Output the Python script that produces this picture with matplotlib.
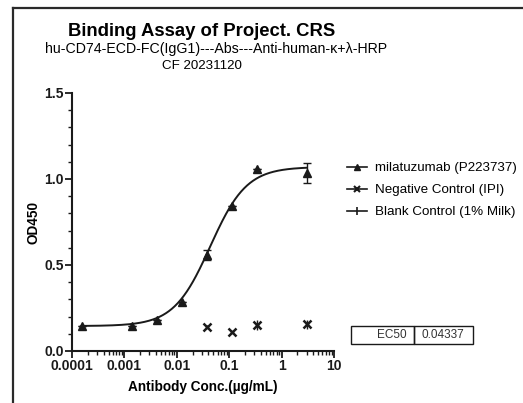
import numpy as np
import matplotlib
matplotlib.use("Agg")
import matplotlib.pyplot as plt
from matplotlib.lines import Line2D
from matplotlib.patches import Rectangle
from matplotlib.ticker import FixedLocator, LogLocator, NullFormatter, FixedFormatter

plt.rcParams['font.family'] = ['Liberation Sans', 'DejaVu Sans']

# Data
conc_mab = [0.000152, 0.00137, 0.00412, 0.0123, 0.037, 0.111, 0.333, 3.0]
od_mab = [0.147, 0.148, 0.178, 0.285, 0.56, 0.845, 1.056, 1.035]
err_mab = [0.0, 0.0, 0.0, 0.0, 0.03, 0.0, 0.0, 0.06]

conc_neg = [0.037, 0.111, 0.333, 3.0]
od_neg = [0.141, 0.112, 0.151, 0.155]
err_neg = [0.008, 0.005, 0.03, 0.025]

# 4PL fit parameters
fit_bottom = 0.145
fit_top = 1.07
fit_ec50 = 0.04337
fit_hill = 1.25

xticks = [0.0001, 0.001, 0.01, 0.1, 1, 10]
xticklabels = ["0.0001", "0.001", "0.01", "0.1", "1", "10"]
yticks = [0.0, 0.5, 1.0, 1.5]
yticklabels = ["0.0", "0.5", "1.0", "1.5"]

legend_labels = ["milatuzumab (P223737)", "Negative Control (IPI)", "Blank Control (1% Milk)"]

fig = plt.figure(figsize=(5.23, 4.03), dpi=100)
ax = fig.add_axes([72/523, 1-351/403, (334-72)/523, (351-93)/403])

xs = np.logspace(np.log10(conc_mab[0]), np.log10(conc_mab[-1]), 300)
ys = fit_bottom + (fit_top - fit_bottom) / (1 + (fit_ec50 / xs) ** fit_hill)
ax.plot(xs, ys, color='#1a1a1a', lw=1.4, zorder=2)

ax.errorbar(conc_mab, od_mab, yerr=err_mab, fmt='^', color='#1a1a1a', ms=5.5,
            capsize=3, elinewidth=1.0, capthick=1.0, zorder=3)
ax.errorbar(conc_neg, od_neg, yerr=err_neg, fmt='x', color='#1a1a1a', ms=5.5, mew=1.8,
            capsize=0, elinewidth=1.0, zorder=3)

ax.set_xscale('log')
ax.set_xlim(1e-4, 10)
ax.set_ylim(0, 1.5)
for s in ['top', 'right']:
    ax.spines[s].set_visible(False)
for s in ['left', 'bottom']:
    ax.spines[s].set_linewidth(1.5)
    ax.spines[s].set_color('#1a1a1a')

ax.xaxis.set_major_locator(FixedLocator(xticks))
ax.xaxis.set_major_formatter(FixedFormatter(xticklabels))
ax.xaxis.set_minor_locator(LogLocator(base=10, subs=np.arange(2, 10), numticks=20))
ax.xaxis.set_minor_formatter(NullFormatter())
ax.yaxis.set_major_locator(FixedLocator(yticks))
ax.yaxis.set_major_formatter(FixedFormatter(yticklabels))
ax.yaxis.set_minor_locator(FixedLocator(np.arange(0.1, 1.5, 0.1)))
ax.tick_params(which='major', direction='out', length=5, width=1.3, labelsize=10, pad=1, colors='#1a1a1a')
ax.tick_params(which='minor', direction='out', length=3, width=1.0, colors='#1a1a1a')
for lab in ax.get_xticklabels() + ax.get_yticklabels():
    lab.set_fontweight('bold')

ax.set_xlabel("Antibody Conc.(µg/mL)", fontsize=9.8, fontweight='bold', labelpad=5)
ax.set_ylabel("OD450", fontsize=9.8, fontweight='bold', labelpad=3)

# Titles
fig.text(202/523, 1-32/403, "Binding Assay of Project. CRS", ha='center', va='center',
         fontsize=13.3, fontweight='bold')
fig.text(216/523, 1-49/403, "hu-CD74-ECD-FC(IgG1)---Abs---Anti-human-κ+λ-HRP", ha='center',
         va='center', fontsize=10.2)
fig.text(202/523, 1-66/403, "CF 20231120", ha='center', va='center', fontsize=9.6)

# Legend
handles = [
    Line2D([0], [0], color='#1a1a1a', marker='^', ms=5, lw=1.2),
    Line2D([0], [0], color='#1a1a1a', marker='x', ms=5, mew=1.5, lw=1.2),
    Line2D([0], [0], color='#1a1a1a', marker='|', ms=6, mew=1.2, lw=1.2),
]
fig.legend(handles, legend_labels, loc='upper left', bbox_to_anchor=(347/523, 1-162/403),
           frameon=False, fontsize=9.6, handlelength=1.5, handletextpad=0.6, labelspacing=0.72,
           borderaxespad=0, borderpad=0)

# EC50 box
fig.patches.append(Rectangle((351/523, 1-344/403), (414-351)/523, 18/403, transform=fig.transFigure,
                             fill=False, ec='#1a1a1a', lw=1.0))
fig.patches.append(Rectangle((414/523, 1-344/403), (473-414)/523, 18/403, transform=fig.transFigure,
                             fill=False, ec='#1a1a1a', lw=1.0))
fig.text(407/523, 1-335/403, "EC50", ha='right', va='center', fontsize=8.5, color='#333333')
fig.text(421/523, 1-335/403, "0.04337", ha='left', va='center', fontsize=8.5, color='#333333')

# Outer frame lines (left and top)
fig.add_artist(Line2D([13/523, 13/523], [0, 1-7.5/403], transform=fig.transFigure, color='#2a2a2a', lw=1.6))
fig.add_artist(Line2D([13/523, 1], [1-7.5/403, 1-7.5/403], transform=fig.transFigure, color='#2a2a2a', lw=1.6))

fig.savefig("out.png", dpi=100)
